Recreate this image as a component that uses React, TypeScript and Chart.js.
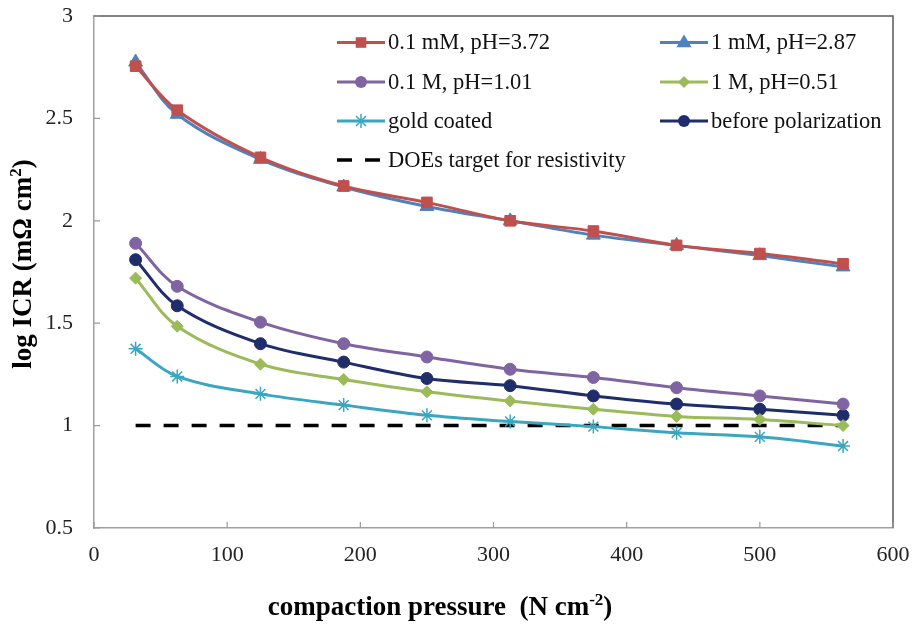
import React, { useEffect, useRef } from 'react';
import { Chart, registerables } from 'chart.js';

Chart.register(...registerables);

// ---- data ----
const pressure = [31.25, 62.5, 125, 187.5, 250, 312.5, 375, 437.5, 500, 562.5];
const s01mM = [2.755, 2.54, 2.31, 2.17, 2.09, 2.0, 1.95, 1.88, 1.84, 1.79];
const s1mM = [2.775, 2.52, 2.3, 2.165, 2.07, 2.0, 1.93, 1.88, 1.83, 1.775];
const s01M = [1.89, 1.68, 1.505, 1.4, 1.335, 1.275, 1.235, 1.185, 1.145, 1.105];
const s1M = [1.72, 1.485, 1.3, 1.225, 1.165, 1.12, 1.08, 1.045, 1.03, 1.0];
const goldCoated = [1.375, 1.24, 1.155, 1.1, 1.05, 1.02, 0.995, 0.965, 0.945, 0.9];
const beforePol = [1.81, 1.585, 1.4, 1.31, 1.23, 1.195, 1.145, 1.105, 1.08, 1.05];
const doeX = [31.25, 562.5];
const doeY = [1, 1];

const xTicks = [0, 100, 200, 300, 400, 500, 600];
const yTicks = [0.5, 1, 1.5, 2, 2.5, 3];

const seriesLabels = [
  '0.1 mM, pH=3.72',
  '1 mM, pH=2.87',
  '0.1 M, pH=1.01',
  '1 M, pH=0.51',
  'gold coated',
  'before polarization',
  'DOEs target for resistivity',
];

const FONT = '"Liberation Serif", "Times New Roman", Times, serif';

const C_RED = '#C0504D';
const C_BLUE = '#4F81BD';
const C_PURPLE = '#8064A2';
const C_GREEN = '#9BBB59';
const C_TEAL = '#3AA6C0';
const C_NAVY = '#1F2D6B';

type Marker = 'rect' | 'triangle' | 'circle' | 'rectRot' | 'star' | 'none';

function drawMarker(ctx: CanvasRenderingContext2D, style: Marker, x: number, y: number, r: number, color: string) {
  ctx.save();
  ctx.fillStyle = color;
  ctx.strokeStyle = color;
  ctx.lineWidth = 1.5;
  ctx.beginPath();
  if (style === 'rect') {
    const s = Math.SQRT1_2 * r;
    ctx.rect(x - s, y - s, 2 * s, 2 * s);
    ctx.fill();
  } else if (style === 'triangle') {
    ctx.moveTo(x, y - r);
    ctx.lineTo(x + r * 0.95, y + r * 0.6);
    ctx.lineTo(x - r * 0.95, y + r * 0.6);
    ctx.closePath();
    ctx.fill();
  } else if (style === 'circle') {
    ctx.arc(x, y, r, 0, Math.PI * 2);
    ctx.fill();
  } else if (style === 'rectRot') {
    ctx.moveTo(x, y - r);
    ctx.lineTo(x + r, y);
    ctx.lineTo(x, y + r);
    ctx.lineTo(x - r, y);
    ctx.closePath();
    ctx.fill();
  } else if (style === 'star') {
    for (let i = 0; i < 4; i++) {
      const a = (i * Math.PI) / 4;
      ctx.moveTo(x - Math.cos(a) * r, y - Math.sin(a) * r);
      ctx.lineTo(x + Math.cos(a) * r, y + Math.sin(a) * r);
    }
    ctx.stroke();
  }
  ctx.restore();
}

type Part = { t: string; sup?: boolean };

function richWidth(ctx: CanvasRenderingContext2D, parts: Part[], size: number) {
  let w = 0;
  for (const p of parts) {
    ctx.font = `bold ${p.sup ? Math.round(size * 0.62) : size}px ${FONT}`;
    w += ctx.measureText(p.t).width;
  }
  return w;
}

function drawRich(ctx: CanvasRenderingContext2D, parts: Part[], cx: number, baseline: number, size: number) {
  const total = richWidth(ctx, parts, size);
  let x = cx - total / 2;
  ctx.textAlign = 'left';
  ctx.textBaseline = 'alphabetic';
  for (const p of parts) {
    const fs = p.sup ? Math.round(size * 0.62) : size;
    ctx.font = `bold ${fs}px ${FONT}`;
    ctx.fillText(p.t, x, p.sup ? baseline - size * 0.38 : baseline);
    x += ctx.measureText(p.t).width;
  }
}

const decorPlugin = {
  id: 'decor',
  afterDraw(chart: any) {
    const { ctx, chartArea, scales } = chart;
    const { left, right, top, bottom } = chartArea;
    ctx.save();
    // plot frame (top + right)
    ctx.strokeStyle = '#5a5a5a';
    ctx.lineWidth = 1.5;
    ctx.beginPath();
    ctx.moveTo(left, top);
    ctx.lineTo(right, top);
    ctx.lineTo(right, bottom);
    ctx.stroke();
    // inward tick marks
    ctx.strokeStyle = '#9a9a9a';
    ctx.lineWidth = 1.2;
    ctx.beginPath();
    for (const v of xTicks) {
      const px = scales.x.getPixelForValue(v);
      ctx.moveTo(px, bottom);
      ctx.lineTo(px, bottom - 6);
    }
    for (const v of yTicks) {
      const py = scales.y.getPixelForValue(v);
      ctx.moveTo(left, py);
      ctx.lineTo(left + 6, py);
    }
    ctx.stroke();

    // axis titles
    ctx.fillStyle = '#000';
    drawRich(ctx, [{ t: 'compaction pressure  (N cm' }, { t: '-2', sup: true }, { t: ')' }], 440, 615, 27);
    ctx.save();
    ctx.translate(31, 264);
    ctx.rotate(-Math.PI / 2);
    drawRich(ctx, [{ t: 'log ICR (mΩ cm' }, { t: '2', sup: true }, { t: ')' }], 0, 0, 27);
    ctx.restore();

    // legend
    const items = chart.data.datasets.map((ds: any, i: number) => ({
      label: seriesLabels[i],
      color: ds.borderColor,
      marker: ds.pointStyle as Marker,
      r: ds.pointRadius,
      dash: ds.borderDash,
    }));
    const cols = [337, 660];
    const rows = [42.5, 82, 121, 160];
    const lineLen = 48;
    items.forEach((it: any, i: number) => {
      const col = i === 6 ? 0 : i % 2;
      const row = Math.floor(i / 2);
      const x0 = cols[col];
      const y0 = rows[row];
      ctx.save();
      ctx.strokeStyle = it.color;
      ctx.lineWidth = 3;
      if (it.dash && it.dash.length) {
        ctx.setLineDash(it.dash);
        ctx.lineWidth = 3.5;
      }
      ctx.beginPath();
      ctx.moveTo(x0, y0);
      ctx.lineTo(x0 + lineLen, y0);
      ctx.stroke();
      ctx.restore();
      if (it.r > 0) drawMarker(ctx, it.marker, x0 + lineLen / 2, y0, it.r, it.color);
      ctx.fillStyle = '#111';
      ctx.font = `22.5px ${FONT}`;
      ctx.textAlign = 'left';
      ctx.textBaseline = 'middle';
      ctx.fillText(it.label, x0 + lineLen + 3, y0 + 1);
    });
    ctx.restore();
  },
};

function mk(label: string, ys: number[], color: string, style: Marker, r: number) {
  return {
    label,
    data: pressure.map((x, i) => ({ x, y: ys[i] })),
    borderColor: color,
    backgroundColor: color,
    borderWidth: 3,
    pointStyle: style,
    pointRadius: r,
    pointBorderWidth: style === 'star' ? 1.5 : 1,
    pointBackgroundColor: color,
    pointBorderColor: color,
    tension: 0.35,
    fill: false,
  };
}

export default function App() {
  const ref = useRef<HTMLCanvasElement | null>(null);
  useEffect(() => {
    if (!ref.current) return;
    const chart = new Chart(ref.current, {
      type: 'line',
      data: {
        datasets: [
          mk(seriesLabels[0], s01mM, C_RED, 'rect', 7.5),
          mk(seriesLabels[1], s1mM, C_BLUE, 'triangle', 8),
          mk(seriesLabels[2], s01M, C_PURPLE, 'circle', 6),
          mk(seriesLabels[3], s1M, C_GREEN, 'rectRot', 6),
          mk(seriesLabels[4], goldCoated, C_TEAL, 'star', 7),
          mk(seriesLabels[5], beforePol, C_NAVY, 'circle', 6),
          {
            label: seriesLabels[6],
            data: doeX.map((x, i) => ({ x, y: doeY[i] })),
            borderColor: '#000',
            backgroundColor: '#000',
            borderWidth: 3.5,
            borderDash: [15, 13],
            pointRadius: 0,
            pointStyle: 'none',
            fill: false,
          } as any,
        ],
      },
      options: {
        responsive: false,
        animation: false,
        devicePixelRatio: 1,
        layout: { padding: { top: 16, right: 21, left: 0, bottom: 0 } },
        plugins: { legend: { display: false }, tooltip: { enabled: false } },
        scales: {
          x: {
            type: 'linear',
            min: 0,
            max: 600,
            afterFit: (s: any) => {
              s.height = 96;
              s.paddingLeft = 0;
              s.paddingRight = 0;
            },
            ticks: {
              stepSize: 100,
              autoSkip: false,
              maxRotation: 0,
              padding: 14,
              color: '#222',
              font: { family: FONT, size: 22 },
            },
            grid: { display: true, drawOnChartArea: false, drawTicks: false },
            border: { display: true, color: '#a0a0a0', width: 1.5 },
          },
          y: {
            type: 'linear',
            min: 0.5,
            max: 3,
            afterFit: (s: any) => {
              s.width = 94;
              s.paddingTop = 0;
              s.paddingBottom = 0;
            },
            ticks: {
              stepSize: 0.5,
              autoSkip: false,
              padding: 21,
              color: '#222',
              font: { family: FONT, size: 22 },
              callback: (v: any) => String(v),
            },
            grid: { display: true, drawOnChartArea: false, drawTicks: false },
            border: { display: true, color: '#a0a0a0', width: 1.5 },
          },
        },
      } as any,
      plugins: [decorPlugin],
    });
    return () => chart.destroy();
  }, []);
  return (
    <div style={{ position: 'absolute', left: 0, top: 0, width: 914, height: 624, background: '#fff' }}>
      <canvas ref={ref} width={914} height={624} style={{ display: 'block' }} />
    </div>
  );
}
